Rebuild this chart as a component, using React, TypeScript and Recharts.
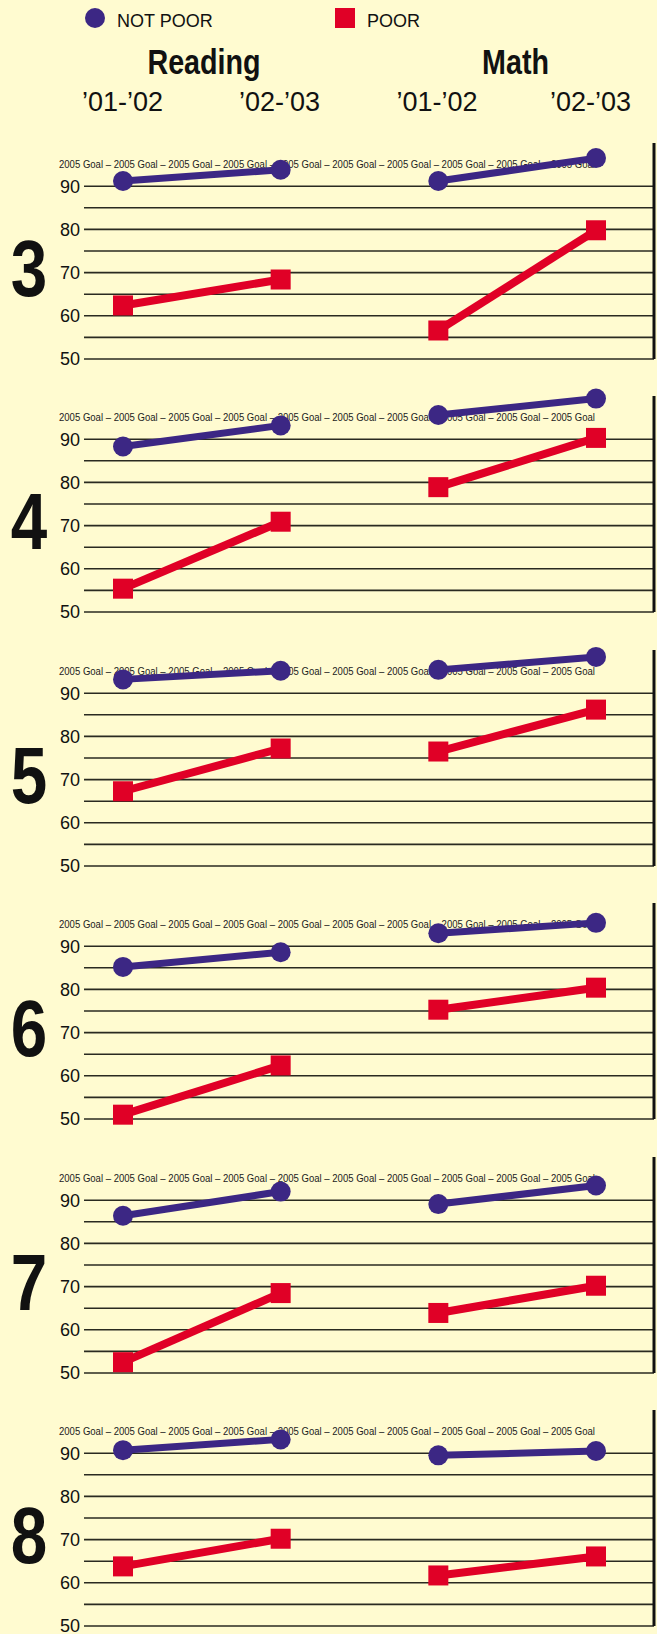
import { LineChart, Line, XAxis, YAxis, CartesianGrid, ReferenceLine } from 'recharts'

const GRADES = ['3', '4', '5', '6', '7', '8']
const SUBJECTS = ['Reading', 'Math']
const PERIODS = ['’01-’02', '’02-’03']
const SERIES_NAMES = ['NOT POOR', 'POOR']
const GOAL_LABEL = '2005 Goal'
const GOAL_VALUE = 95

// one pair per grade: [’01-’02, ’02-’03]
const READING_NOT_POOR = [[91.2, 93.8], [88.3, 93.2], [93.2, 95.2], [85.2, 88.6], [86.4, 92], [90.7, 93.2]]
const READING_POOR = [[62.4, 68.4], [55.4, 70.9], [67.3, 77.2], [51, 62.4], [52.5, 68.5], [63.8, 70.2]]
const MATH_NOT_POOR = [[91.2, 96.5], [95.6, 99.4], [95.4, 98.4], [93, 95.4], [89.1, 93.4], [89.5, 90.5]]
const MATH_POOR = [[56.6, 79.8], [78.9, 90.3], [76.5, 86.2], [75.3, 80.4], [63.9, 70.2], [61.7, 66.1]]

const Y_TICKS = [50, 55, 60, 65, 70, 75, 80, 85, 90]

const BG = '#fffbd0'
const PURPLE = '#3c2784'
const RED = '#e00026'
const INK = '#111'
const SANS = "'Liberation Sans', Arial, sans-serif"

const CATEGORIES = SUBJECTS.flatMap((s) => PERIODS.map((p) => `${s} ${p}`))

function rowsFor(g: number) {
  return CATEGORIES.map((name, j) => {
    const p = j % 2
    const reading = j < 2
    return {
      name,
      readingNotPoor: reading ? READING_NOT_POOR[g][p] : null,
      readingPoor: reading ? READING_POOR[g][p] : null,
      mathNotPoor: reading ? null : MATH_NOT_POOR[g][p],
      mathPoor: reading ? null : MATH_POOR[g][p],
    }
  })
}

const goalText = Array(10).fill(GOAL_LABEL).join(' – ')

// drawn as the reference line's shape so the series sit on top of it
function GoalShape(props: any) {
  const x = props.x1 ?? 84
  const y = props.y1 ?? 0
  return (
    <text
      x={x - 25}
      y={y}
      dy="0.35em"
      fontSize={10}
      fontFamily={SANS}
      fill="#222"
      textLength={536}
      lengthAdjust="spacingAndGlyphs"
    >
      {goalText}
    </text>
  )
}

function SquareDot(props: any) {
  const { cx, cy, index } = props
  if (cx == null || cy == null) return <g key={`sq-${index}`} />
  return <rect key={`sq-${index}`} x={cx - 10} y={cy - 10} width={20} height={20} fill={RED} />
}

function CircleDot(props: any) {
  const { cx, cy, index } = props
  if (cx == null || cy == null) return <g key={`ci-${index}`} />
  return <circle key={`ci-${index}`} cx={cx} cy={cy} r={10} fill={PURPLE} />
}

const PERIOD_X = [122.5, 279.5, 437, 590.5]
const SUBJECT_X = [204, 515.5]

function Header() {
  return (
    <svg width={657} height={130} style={{ position: 'absolute', left: 0, top: 0 }}>
      <circle cx={95} cy={18} r={10} fill={PURPLE} />
      <text x={117} y={27} fontSize={18} fontFamily={SANS} fill={INK}>{SERIES_NAMES[0]}</text>
      <rect x={335} y={8} width={20} height={20} fill={RED} />
      <text x={367} y={27} fontSize={18} fontFamily={SANS} fill={INK}>{SERIES_NAMES[1]}</text>
      {SUBJECTS.map((s, i) => (
        <text
          key={s}
          transform={`translate(${SUBJECT_X[i]},74) scale(0.82,1)`}
          textAnchor="middle"
          fontSize={35}
          fontWeight="bold"
          fontFamily={SANS}
          fill={INK}
        >
          {s}
        </text>
      ))}
      {CATEGORIES.map((c, j) => (
        <text key={c} x={PERIOD_X[j]} y={111} textAnchor="middle" fontSize={27} fontFamily={SANS} fill={INK}>
          {PERIODS[j % 2]}
        </text>
      ))}
    </svg>
  )
}

function GradePanel({ g }: { g: number }) {
  const top = 129 + Math.round(g * 253.4)
  return (
    <div style={{ position: 'absolute', left: 0, top, width: 657, height: 250 }}>
      <LineChart width={657} height={250} data={rowsFor(g)} margin={{ top: 14, right: 1, bottom: 20, left: 0 }}>
        <CartesianGrid vertical={false} horizontalValues={Y_TICKS} stroke="#2a2a20" strokeWidth={1.6} />
        <XAxis dataKey="name" hide padding={{ left: 39, right: 58 }} />
        <YAxis
          domain={[50, 100]}
          ticks={Y_TICKS}
          interval={0}
          width={84}
          axisLine={false}
          tickLine={false}
          tickSize={2}
          tickMargin={2}
          tickFormatter={(v: number) => (v % 10 === 0 ? String(v) : '')}
          tick={{ fill: INK, fontSize: 18, fontFamily: SANS }}
        />
        <YAxis
          yAxisId="edge"
          orientation="right"
          domain={[50, 100]}
          width={2}
          tick={false}
          tickLine={false}
          axisLine={{ stroke: INK, strokeWidth: 3 }}
        />
        <ReferenceLine y={GOAL_VALUE} shape={GoalShape} />
        <Line dataKey="readingPoor" stroke={RED} strokeWidth={8} dot={SquareDot} activeDot={false} isAnimationActive={false} />
        <Line dataKey="mathPoor" stroke={RED} strokeWidth={8} dot={SquareDot} activeDot={false} isAnimationActive={false} />
        <Line dataKey="readingNotPoor" stroke={PURPLE} strokeWidth={7} dot={CircleDot} activeDot={false} isAnimationActive={false} />
        <Line dataKey="mathNotPoor" stroke={PURPLE} strokeWidth={7} dot={CircleDot} activeDot={false} isAnimationActive={false} />
      </LineChart>
      <svg width={84} height={250} style={{ position: 'absolute', left: 0, top: 0 }}>
        <text
          transform="translate(29,167) scale(0.82,1)"
          textAnchor="middle"
          fontSize={80}
          fontWeight="bold"
          fontFamily={SANS}
          fill={INK}
        >
          {GRADES[g]}
        </text>
      </svg>
    </div>
  )
}

export default function App() {
  return (
    <div style={{ position: 'absolute', left: 0, top: 0, width: 657, height: 1634, background: BG, overflow: 'hidden' }}>
      <Header />
      {GRADES.map((_, g) => (
        <GradePanel key={g} g={g} />
      ))}
    </div>
  )
}
